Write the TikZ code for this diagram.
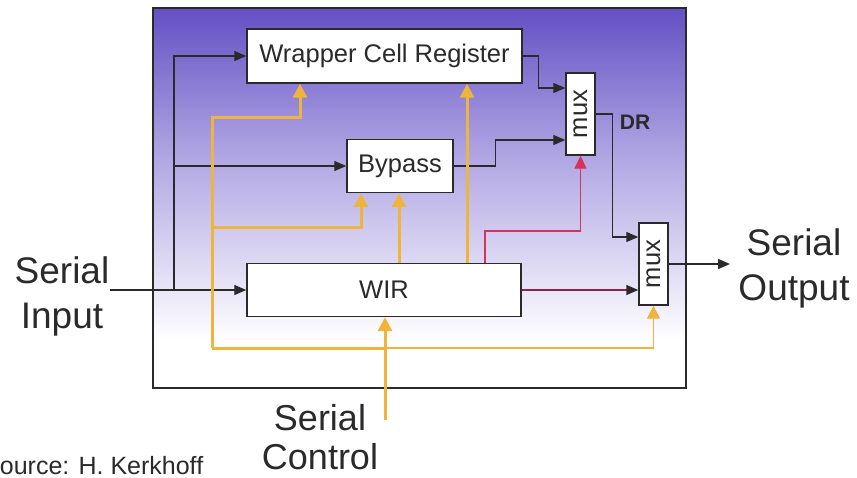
\documentclass[tikz,border=0pt]{standalone}
\usepackage{fontspec}
\setmainfont{Liberation Sans}
\usetikzlibrary{arrows.meta,calc}
\definecolor{bgA}{HTML}{6450C4}
\definecolor{bgB}{HTML}{ADA3E2}
\definecolor{bgC}{HTML}{EEEBF9}
\definecolor{orng}{HTML}{F0B43C}
\definecolor{redl}{HTML}{D8325A}
\definecolor{redd}{HTML}{8A2545}
\definecolor{ink}{HTML}{2A2A2A}
\tikzset{
  box/.style={draw=ink, line width=1.4pt, fill=white, inner sep=0pt, text=ink,
    font=\fontsize{25.5}{29}\selectfont},
  muxbox/.style={box, minimum width=29pt, minimum height=82pt},
  blk/.style={draw=ink, line width=1.3pt, -{Triangle[length=12pt,width=10pt]}},
  orng/.style={draw=orng, line width=3pt, -{Triangle[length=14pt,width=14pt]}},
  orngline/.style={draw=orng, line width=3pt},
  orngthin/.style={draw=orng, line width=1.3pt, -{Triangle[length=13pt,width=13pt]}},
  redarrow/.style={draw=redl, line width=1.5pt, -{Triangle[length=13pt,width=12pt]}},
  redwir/.style={draw=redd, line width=1.4pt, -{Triangle[length=12pt,width=10pt,color=ink]}},
  biglabel/.style={inner sep=0pt, align=center, text=ink},
}
\begin{document}
\begin{tikzpicture}[x=1pt,y=-1pt]
\useasboundingbox (0,0) rectangle (857,477);
% background frame
\fill[white] (153,8) rectangle (686,388);
\shade[top color=bgA, bottom color=bgB] (153,8) rectangle (686,151);
\shade[top color=bgB, bottom color=bgC] (153,150) rectangle (686,301);
\shade[top color=bgC, bottom color=white] (153,300) rectangle (686,340);
\draw[ink, line width=1.4pt] (153,8) rectangle (686,388);

% blocks
\node[box, minimum width=275pt, minimum height=54pt] (wcr) at (384.5,56) {Wrapper Cell Register};
\node[box, minimum width=106pt, minimum height=53pt] (byp) at (400,166) {Bypass};
\node[box, minimum width=274pt, minimum height=53pt] (wir) at (384,290) {WIR};
\node[muxbox] (mux1) at (580.5,114) {\rotatebox{90}{mux}};
\node[muxbox] (mux2) at (653.5,264) {\rotatebox{90}{mux}};

% labels
\node[biglabel, font=\fontsize{37}{45}\selectfont] (sin) at (62,296) {Serial\\Input};
\node[biglabel, font=\fontsize{37}{45}\selectfont] (sout) at (794,268) {Serial\\Output};
\node[biglabel, font=\fontsize{36}{39}\selectfont] (sctl) at (320,437) {Serial\\Control};
\node[inner sep=0pt, anchor=base west, text=ink, font=\fontsize{25}{28}\selectfont] (src) at (-17,474) {Source: H. Kerkhoff};
\node[inner sep=0pt, text=ink, font=\bfseries\fontsize{21}{24}\selectfont] (dr) at (635,122) {DR};

% coordinates
\coordinate (inEnd) at (110,290);
\coordinate (j1) at (174,290);
\coordinate (m1a) at ([yshift=26pt]mux1.west);
\coordinate (m1b) at ([yshift=-26pt]mux1.west);
\coordinate (m2a) at ([yshift=27pt]mux2.west);
\coordinate (outEnd) at (730,264);
\coordinate (ctlTop) at (385,420);
\coordinate (cj) at (385,348);
\coordinate (oj) at (212,348);

% black data paths
\draw[blk] (inEnd) -- (wir.west);
\draw[blk] (j1) |- (wcr.west);
\draw[blk] (j1 |- byp.west) -- (byp.west);
\draw[blk] (wcr.east) -- ++(16,0) |- (m1a);
\draw[blk] (byp.east) -- ++(42,0) |- (m1b);
\draw[blk] (mux1.east) -- ++(17,0) |- (m2a);
\draw[blk] (mux2.east) -- (outEnd);

% red control from WIR
\draw[redarrow] (485,0 |- wir.north) -- (485,231) -| (mux1.south);
\draw[redwir] (wir.east) -- (wir.east -| mux2.west);

% orange serial control
\draw[orng] (oj) -- (212,117) -| (300,0 |- wcr.south);
\draw[orng] (212,227) -| (361,0 |- byp.south);
\draw[orng] (399,0 |- wir.north) -- (399,0 |- byp.south);
\draw[orng] (467,0 |- wir.north) -- (467,0 |- wcr.south);
\draw[orngline] (cj) -- (oj);
\draw[orngthin] (cj) -| (mux2.south);
\draw[orng] (ctlTop) -- (385,0 |- wir.south);
\end{tikzpicture}
\end{document}
